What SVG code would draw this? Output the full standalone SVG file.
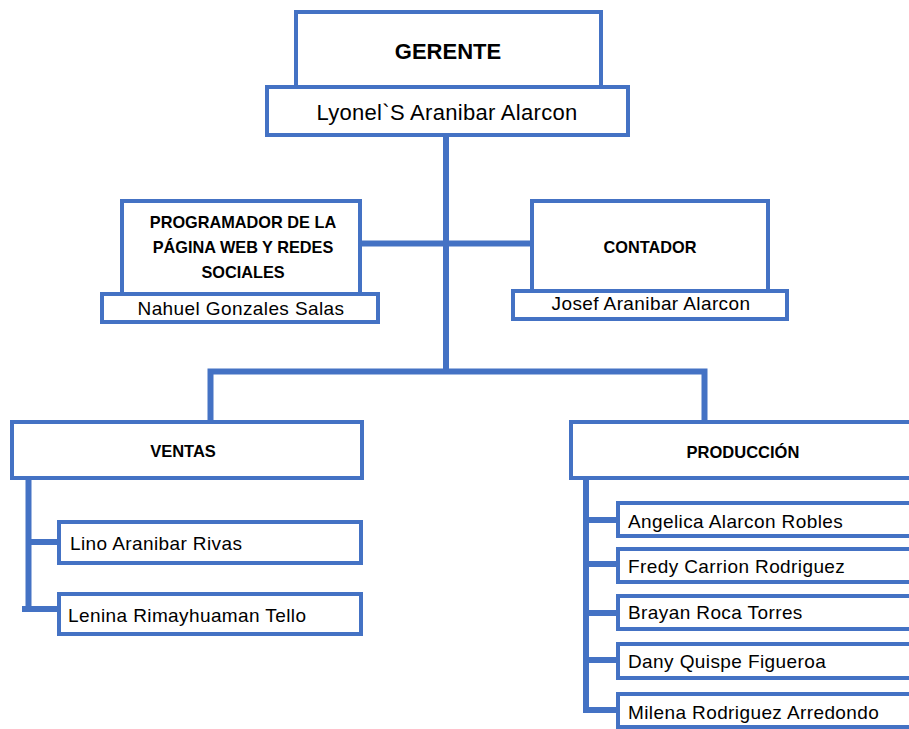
<svg xmlns="http://www.w3.org/2000/svg" width="909" height="729" viewBox="0 0 909 729">
<style>
  .box { fill: #ffffff; stroke: #4472C4; stroke-width: 4; }
  .con { stroke: #4472C4; stroke-width: 6; fill: none; }
  .h { font-family: "Liberation Sans", Arial, sans-serif; font-weight: bold; fill: #000; text-anchor: middle; }
  .n { font-family: "Liberation Sans", Arial, sans-serif; fill: #000; font-size: 19px; letter-spacing: 0.4px; }
  .c { text-anchor: middle; }
</style>
<rect x="0" y="0" width="909" height="729" fill="#ffffff"/>
<g id="connectors">
  <line class="con" x1="446" y1="134" x2="446" y2="374"/>
  <line class="con" x1="358" y1="243.5" x2="533" y2="243.5"/>
  <polyline class="con" points="210.5,421 210.5,371.5 704.5,371.5 704.5,421"/>
  <polyline class="con" points="28.5,478 28.5,609"/>
  <line class="con" x1="28.5" y1="542" x2="59" y2="542"/>
  <line class="con" x1="22" y1="609" x2="59" y2="609"/>
  <line class="con" x1="586" y1="478" x2="586" y2="713"/>
  <line class="con" x1="586" y1="520" x2="618" y2="520"/>
  <line class="con" x1="586" y1="564" x2="618" y2="564"/>
  <line class="con" x1="586" y1="613" x2="618" y2="613"/>
  <line class="con" x1="586" y1="660" x2="618" y2="660"/>
  <line class="con" x1="583" y1="710" x2="618" y2="710"/>
</g>
<g id="gerente">
  <rect class="box" x="296" y="12" width="305" height="76"/>
  <text class="h" x="448" y="59" font-size="22">GERENTE</text>
</g>
<g id="gerente-name">
  <rect class="box" x="267" y="87" width="361" height="48"/>
  <text class="n c" x="447" y="120" style="font-size:22px;letter-spacing:0.3px">Lyonel`S Aranibar Alarcon</text>
</g>
<g id="programador">
  <rect class="box" x="122" y="201" width="238" height="93"/>
  <text class="h" x="243" y="228" font-size="16.3">PROGRAMADOR DE LA</text>
  <text class="h" x="243" y="253" font-size="16.3">PÁGINA WEB Y REDES</text>
  <text class="h" x="243" y="278" font-size="16.3">SOCIALES</text>
</g>
<g id="programador-name">
  <rect class="box" x="102" y="294" width="276" height="28"/>
  <text class="n c" x="241" y="315">Nahuel Gonzales Salas</text>
</g>
<g id="contador">
  <rect class="box" x="532" y="201" width="236" height="91"/>
  <text class="h" x="650" y="253" font-size="16.3">CONTADOR</text>
</g>
<g id="contador-name">
  <rect class="box" x="513" y="291" width="274" height="28"/>
  <text class="n c" x="651" y="310">Josef Aranibar Alarcon</text>
</g>
<g id="ventas">
  <rect class="box" x="12" y="422" width="350" height="56"/>
  <text class="h" x="183" y="457" font-size="16.5">VENTAS</text>
</g>
<g id="ventas-1">
  <rect class="box" x="59" y="522" width="302" height="41"/>
  <text class="n" x="70" y="550">Lino Aranibar Rivas</text>
</g>
<g id="ventas-2">
  <rect class="box" x="59" y="594" width="302" height="40"/>
  <text class="n" x="68" y="622">Lenina Rimayhuaman Tello</text>
</g>
<g id="produccion">
  <rect class="box" x="571" y="422" width="350" height="56"/>
  <text class="h" x="743" y="458" font-size="16.5">PRODUCCIÓN</text>
</g>
<g id="produccion-1">
  <rect class="box" x="618" y="503" width="300" height="33"/>
  <text class="n" x="628" y="528">Angelica Alarcon Robles</text>
</g>
<g id="produccion-2">
  <rect class="box" x="618" y="549" width="300" height="33"/>
  <text class="n" x="628" y="573">Fredy Carrion Rodriguez</text>
</g>
<g id="produccion-3">
  <rect class="box" x="618" y="596" width="300" height="33"/>
  <text class="n" x="628" y="619">Brayan Roca Torres</text>
</g>
<g id="produccion-4">
  <rect class="box" x="618" y="644" width="300" height="34"/>
  <text class="n" x="628" y="668">Dany Quispe Figueroa</text>
</g>
<g id="produccion-5">
  <rect class="box" x="618" y="694" width="300" height="33"/>
  <text class="n" x="628" y="719">Milena Rodriguez Arredondo</text>
</g>
</svg>
